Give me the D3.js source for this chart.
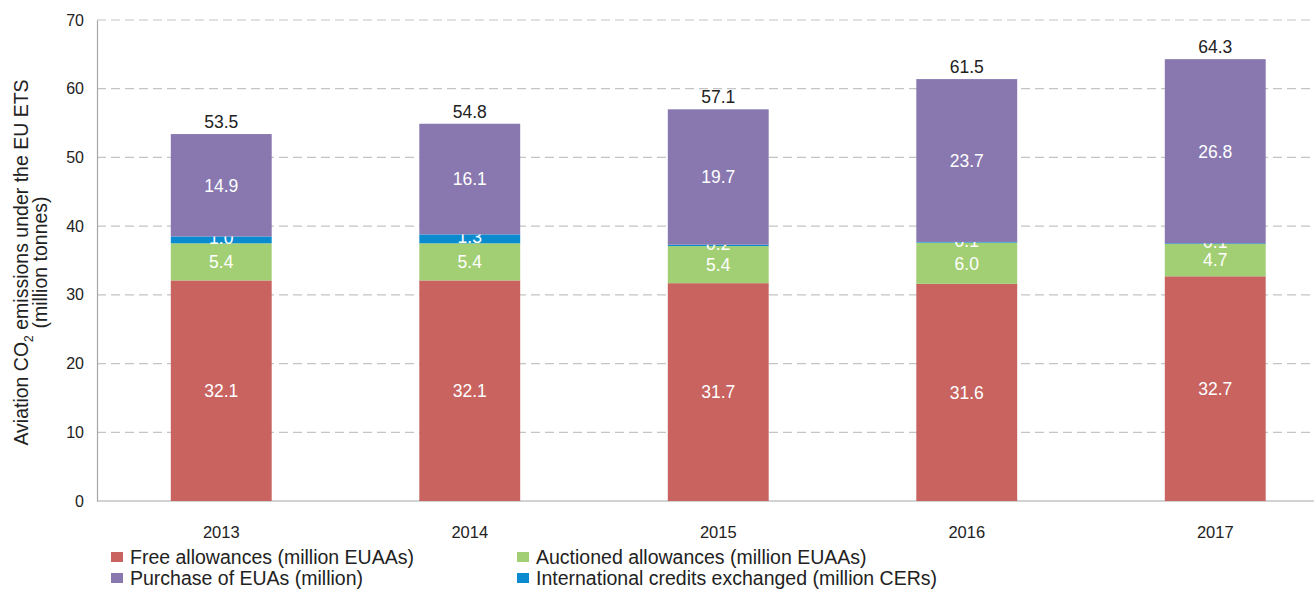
<!DOCTYPE html>
<html>
<head>
<meta charset="utf-8">
<script src="https://cdn.jsdelivr.net/npm/d3@7"></script>
<style>
  html, body { margin: 0; padding: 0; background: #fff; }
  svg { display: block; }
  text { font-family: "Liberation Sans", Arial, sans-serif; }
</style>
</head>
<body>
<svg id="chart" width="1314" height="589"></svg>
<script>
// Aviation emissions under the EU ETS, by allowance source (million tonnes)
const years = ["2013", "2014", "2015", "2016", "2017"];
const freeAllowances = [32.1, 32.1, 31.7, 31.6, 32.7];
const auctionedAllowances = [5.4, 5.4, 5.4, 6.0, 4.7];
const internationalCredits = [1.0, 1.3, 0.2, 0.1, 0.1];
const purchasedEUAs = [14.9, 16.1, 19.7, 23.7, 26.8];
const totals = [53.5, 54.8, 57.1, 61.5, 64.3];
const yTicks = [0, 10, 20, 30, 40, 50, 60, 70];

const seriesDefs = [
  { key: "free", name: "Free allowances (million EUAAs)", values: freeAllowances, color: "#C8635F" },
  { key: "auctioned", name: "Auctioned allowances (million EUAAs)", values: auctionedAllowances, color: "#A3CF74" },
  { key: "intl", name: "International credits exchanged (million CERs)", values: internationalCredits, color: "#0A8BCF" },
  { key: "purchase", name: "Purchase of EUAs (million)", values: purchasedEUAs, color: "#8878AF" }
];

const rows = years.map((y, i) => {
  const r = { year: y };
  seriesDefs.forEach(s => r[s.key] = s.values[i]);
  return r;
});

const svg = d3.select("#chart");
const margin = { left: 97, top: 20, bottom: 88 };
const height = 589;
const plotBottom = height - margin.bottom;

const x = d3.scaleBand().domain(years).range([margin.left, margin.left + 1242.5]).paddingInner(0.594).paddingOuter(0.297);
const y = d3.scaleLinear().domain([0, 70]).range([plotBottom, margin.top]);

// dashed horizontal grid
svg.append("g")
  .selectAll("line")
  .data(yTicks.filter(t => t > 0))
  .join("line")
  .attr("x1", margin.left).attr("x2", 1314)
  .attr("y1", d => y(d)).attr("y2", d => y(d))
  .attr("stroke", "#C4C4C4").attr("stroke-width", 1.2)
  .attr("stroke-dasharray", "9,5");

// y axis
const yAxis = svg.append("g")
  .attr("transform", `translate(${margin.left},0)`)
  .call(d3.axisLeft(y).tickValues(yTicks).tickSize(0).tickPadding(13));
yAxis.select(".domain").attr("stroke", "#A6A6A6").attr("stroke-width", 1.2);
yAxis.selectAll("text").attr("font-size", 16).attr("fill", "#222");

// x axis
const xAxis = svg.append("g")
  .attr("transform", `translate(0,${plotBottom})`)
  .call(d3.axisBottom(x).tickSize(0).tickPadding(25));
xAxis.select(".domain").remove();
xAxis.selectAll("text").attr("font-size", 16.5).attr("fill", "#222");
svg.append("line")
  .attr("x1", margin.left).attr("x2", 1314)
  .attr("y1", plotBottom).attr("y2", plotBottom)
  .attr("stroke", "#A6A6A6").attr("stroke-width", 1.2);

// stacked bars
const stack = d3.stack().keys(seriesDefs.map(s => s.key));
const stacked = stack(rows);

const layers = svg.append("g")
  .selectAll("g")
  .data(stacked)
  .join("g")
  .attr("fill", (d, i) => seriesDefs[i].color);

layers.selectAll("rect")
  .data(d => d)
  .join("rect")
  .attr("x", d => x(d.data.year))
  .attr("width", x.bandwidth())
  .attr("y", d => y(d[1]))
  .attr("height", d => y(d[0]) - y(d[1]));

// segment value labels (the thin credits slice label sits slightly higher)
layers.selectAll("text")
  .data(d => d.map(v => ({ v, key: d.key })))
  .join("text")
  .attr("x", d => x(d.v.data.year) + x.bandwidth() / 2)
  .attr("y", d => y((d.v[0] + d.v[1]) / 2) + (d.key === "intl" ? -2 : 0))
  .attr("dy", "0.36em")
  .attr("text-anchor", "middle")
  .attr("font-size", 17.5)
  .attr("fill", "#fff")
  .text(d => d.v.data[d.key].toFixed(1));

// totals above each bar
svg.append("g")
  .selectAll("text")
  .data(rows.map((r, i) => ({ year: r.year, top: d3.sum(seriesDefs, s => r[s.key]), total: totals[i] })))
  .join("text")
  .attr("x", d => x(d.year) + x.bandwidth() / 2)
  .attr("y", d => y(d.top) - 6)
  .attr("text-anchor", "middle")
  .attr("font-size", 17.5)
  .attr("fill", "#222")
  .text(d => d.total.toFixed(1));

// y axis title
const yTitle = svg.append("text")
  .attr("transform", `translate(28,${(margin.top + plotBottom) / 2 + 2}) rotate(-90)`)
  .attr("text-anchor", "middle")
  .attr("font-size", 19.5)
  .attr("fill", "#222");
yTitle.append("tspan").attr("x", 0).attr("dy", 0).text("Aviation CO");
yTitle.append("tspan").attr("font-size", 12).attr("dy", 5).text("2");
yTitle.append("tspan").attr("dy", -5).text(" emissions under the EU ETS");
yTitle.append("tspan").attr("x", 0).attr("dy", 19).text("(million tonnes)");

// legend
const legendOrder = [
  { s: seriesDefs[0], x: 111, y: 557 },
  { s: seriesDefs[1], x: 517, y: 557 },
  { s: seriesDefs[3], x: 111, y: 578 },
  { s: seriesDefs[2], x: 517, y: 578 }
];
const legend = svg.append("g")
  .selectAll("g")
  .data(legendOrder)
  .join("g")
  .attr("transform", d => `translate(${d.x},${d.y})`);
legend.append("rect")
  .attr("x", 0).attr("y", -5).attr("width", 12).attr("height", 10)
  .attr("fill", d => d.s.color);
legend.append("text")
  .attr("x", 19).attr("y", 0).attr("dy", "0.36em")
  .attr("font-size", 19.5).attr("fill", "#222")
  .text(d => d.s.name);
</script>
</body>
</html>
